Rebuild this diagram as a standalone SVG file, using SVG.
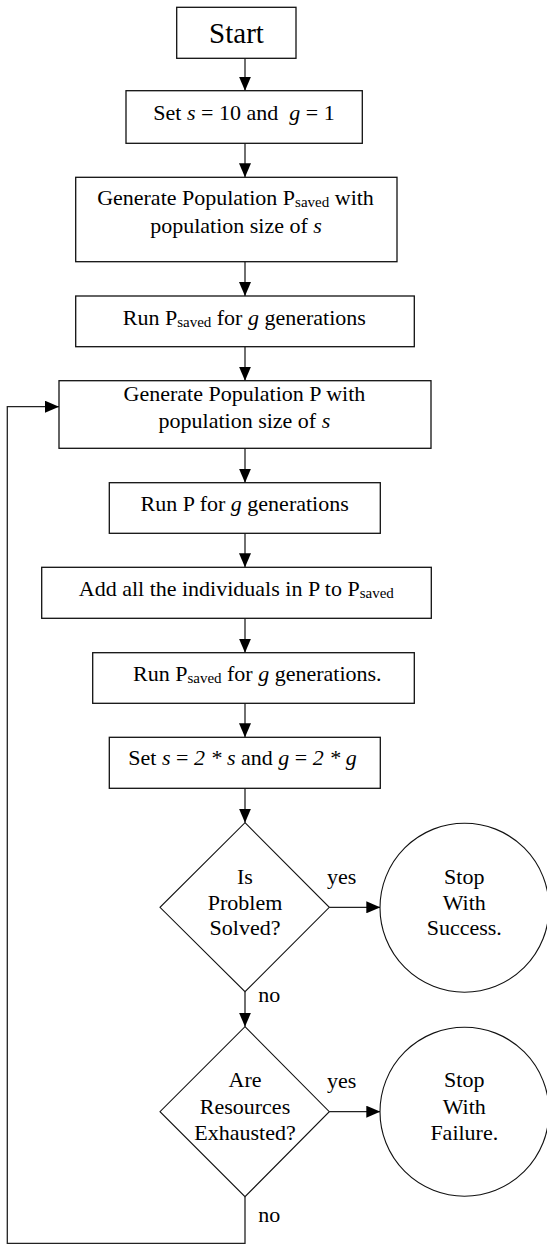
<svg xmlns="http://www.w3.org/2000/svg" width="547" height="1247" viewBox="0 0 547 1247">
<style>
.box{fill:#fff;stroke:#111;stroke-width:1.3}
.shape{fill:#fff;stroke:#111;stroke-width:1.1}
.t{font-family:"Liberation Serif","Times New Roman",serif;font-size:22px;fill:#000;text-anchor:middle}
.l{font-family:"Liberation Serif","Times New Roman",serif;font-size:22px;fill:#000}
.big{font-size:29px}
.sub{font-size:15px}
.i{font-style:italic}
.c{fill:none;stroke:#222;stroke-width:1.3}
</style>
<defs>
<marker id="ah" markerUnits="userSpaceOnUse" markerWidth="14" markerHeight="12" refX="14" refY="6" orient="auto">
<path d="M0,0 L14,6 L0,12 z" fill="#000"/>
</marker>
</defs>
<g id="connectors">
<line class="c" x1="245" y1="58.3" x2="245" y2="90.7" marker-end="url(#ah)"/>
<line class="c" x1="245" y1="143.3" x2="245" y2="177.3" marker-end="url(#ah)"/>
<line class="c" x1="245" y1="261.7" x2="245" y2="296" marker-end="url(#ah)"/>
<line class="c" x1="245" y1="346.7" x2="245" y2="380.7" marker-end="url(#ah)"/>
<line class="c" x1="245" y1="448.3" x2="245" y2="482.7" marker-end="url(#ah)"/>
<line class="c" x1="245" y1="533.3" x2="245" y2="567.3" marker-end="url(#ah)"/>
<line class="c" x1="245" y1="618.3" x2="245" y2="652.7" marker-end="url(#ah)"/>
<line class="c" x1="245" y1="703.3" x2="245" y2="737.3" marker-end="url(#ah)"/>
<line class="c" x1="245" y1="788.3" x2="245" y2="822.7" marker-end="url(#ah)"/>
<line class="c" x1="245" y1="991.7" x2="245" y2="1026.7" marker-end="url(#ah)"/>
<line class="c" x1="329.3" y1="907.3" x2="380.3" y2="907.3" marker-end="url(#ah)"/>
<line class="c" x1="329.3" y1="1111.7" x2="380.3" y2="1111.7" marker-end="url(#ah)"/>
<polyline class="c" points="245,1196.7 245,1243.3 7.3,1243.3 7.3,406.7 59,406.7" marker-end="url(#ah)"/>
<text class="l" x="327" y="884">yes</text>
<text class="l" x="327" y="1088">yes</text>
<text class="l" x="258.3" y="1001.7">no</text>
<text class="l" x="258.3" y="1221.7">no</text>
</g>
<g id="start">
<rect class="box" x="176.7" y="7.3" width="119.3" height="51"/>
<text class="t big" x="236.5" y="42.7">Start</text>
</g>
<g id="init">
<rect class="box" x="126" y="90.7" width="236.3" height="52.6"/>
<text class="t" x="244" y="120" xml:space="preserve">Set <tspan class="i">s</tspan> = 10 and  <tspan class="i">g</tspan> = 1</text>
</g>
<g id="gen-saved">
<rect class="box" x="75.7" y="177.3" width="321.3" height="84.4"/>
<text class="t" x="235.5" y="205">Generate Population P<tspan class="sub" dy="2">saved</tspan><tspan dy="-2"> with</tspan></text>
<text class="t" x="236" y="233.3">population size of <tspan class="i">s</tspan></text>
</g>
<g id="run-saved">
<rect class="box" x="75.7" y="296" width="338.6" height="50.7"/>
<text class="t" x="244.3" y="325">Run P<tspan class="sub" dy="2">saved</tspan><tspan dy="-2"> for </tspan><tspan class="i">g</tspan> generations</text>
</g>
<g id="gen-p">
<rect class="box" x="59" y="380.7" width="372" height="67.6"/>
<text class="t" x="244.4" y="401">Generate Population P with</text>
<text class="t" x="244.4" y="428">population size of <tspan class="i">s</tspan></text>
</g>
<g id="run-p">
<rect class="box" x="109.3" y="482.7" width="271" height="50.6"/>
<text class="t" x="244.7" y="510.7">Run P for <tspan class="i">g</tspan> generations</text>
</g>
<g id="add">
<rect class="box" x="41.7" y="567.3" width="389.6" height="51"/>
<text class="t" x="236.3" y="596">Add all the individuals in P to P<tspan class="sub" dy="2">saved</tspan></text>
</g>
<g id="run-saved-2">
<rect class="box" x="92.7" y="652.7" width="321.6" height="50.6"/>
<text class="t" x="257.3" y="681">Run P<tspan class="sub" dy="2">saved</tspan><tspan dy="-2"> for </tspan><tspan class="i">g</tspan> generations.</text>
</g>
<g id="double">
<rect class="box" x="109.3" y="737.3" width="271" height="51"/>
<text class="t" x="242.5" y="765">Set <tspan class="i">s</tspan> = <tspan class="i">2 * s</tspan> and <tspan class="i">g</tspan> = <tspan class="i">2 * g</tspan></text>
</g>
<g id="solved">
<polygon class="shape" points="245,822.7 329.3,907.3 245,991.7 160,907.3"/>
<text class="t" x="245" y="883.5">Is</text>
<text class="t" x="245" y="910">Problem</text>
<text class="t" x="245" y="935">Solved?</text>
</g>
<g id="success">
<circle class="shape" cx="464.5" cy="907.7" r="84.5"/>
<text class="t" x="464.3" y="883.5">Stop</text>
<text class="t" x="464.3" y="910">With</text>
<text class="t" x="464.3" y="935">Success.</text>
</g>
<g id="exhausted">
<polygon class="shape" points="245,1026.7 329.3,1111.7 245,1196.7 160,1111.7"/>
<text class="t" x="245" y="1087.3">Are</text>
<text class="t" x="245" y="1113.5">Resources</text>
<text class="t" x="245" y="1140">Exhausted?</text>
</g>
<g id="failure">
<circle class="shape" cx="464.5" cy="1111.7" r="84.5"/>
<text class="t" x="464.3" y="1087.3">Stop</text>
<text class="t" x="464.3" y="1113.5">With</text>
<text class="t" x="464.3" y="1140">Failure.</text>
</g>
</svg>
